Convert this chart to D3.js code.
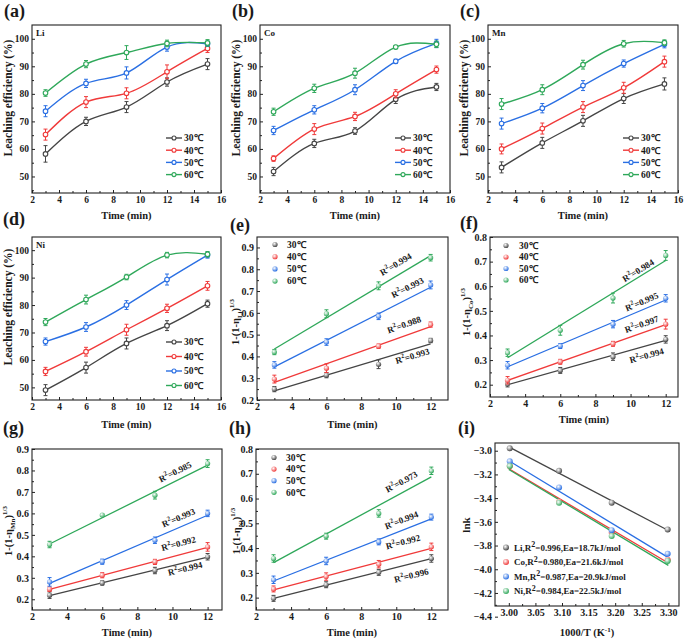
<!DOCTYPE html>
<html><head><meta charset="utf-8">
<script src="https://cdn.jsdelivr.net/npm/d3@7"></script>
<style>
body{margin:0;background:#fff}
svg{display:block}
text{font-family:"Liberation Serif","Times New Roman",serif;font-weight:bold;fill:#1a1a1a}
</style>
</head><body><svg id="c" width="685" height="643"></svg>
<script>
// ---------------- DATA ----------------
const temps = ["30℃","40℃","50℃","60℃"];
const colors = ["#454545","#f03a3a","#2a6fe3","#2fa85a"];

// Leaching efficiency vs time (a-d)
const timeA = [3,6,9,12,15];
const liEff = [[58.2,70,75.2,84.3,90.8],[65.2,77,80.2,88,96.5],[73.7,83.8,87.6,97,98.2],[80.3,90.8,95,98.3,98.5]];
const liErr = [[3,1.5,2,1.5,2],[2,2,2,2.5,1.5],[2,1.5,2.2,1.5,1],[1.2,1.3,2.5,1.2,1.2]];
const coEff = [[51.8,62,66.5,78,82.5],[56.5,67.2,71.8,80,88.8],[66.7,74.2,81.5,91.8,98.3],[73.5,82,87.5,97,98]];
const coErr = [[1.5,1.5,1.2,1.5,1.3],[1,2,1.5,1.5,1.3],[1.5,1.5,1.8,0.8,1.5],[1.3,1.5,1.8,0.6,1.2]];
const mnEff = [[53.3,62.2,70.2,78.3,83.6],[60,67.4,75.2,82.2,91.7],[69.2,74.8,83,91,98],[76.3,81.5,90.6,98.2,98.6]];
const mnErr = [[2,2,2,1.8,2.2],[1.8,2,2,2,2],[2,1.7,1.8,1.3,1.3],[2,1.8,1.6,1.2,1]];
const niEff = [[49,57.2,66,72.5,80.5],[55.8,63,71,78.8,87],[66.7,72,80,89.3,98.2],[73.8,82,90.2,98.2,98.5]];
const niErr = [[2,2,2,1.8,1.3],[1.5,1.6,2,1.5,1.6],[1.3,1.6,1.6,2,1.1],[1.3,1.6,1,1,1]];

// Shrinking-core kinetics 1-(1-eta)^(1/3) vs time (e-h)
const timeK = [3,6,9,12];
const liK = [[0.25,0.314,0.364,0.473],[0.296,0.346,0.447,0.546],[0.361,0.466,0.584,0.728],[0.42,0.596,0.724,0.853]];
const liKErr = [[0.012,0.012,0.02,0.01],[0.018,0.02,0.01,0.012],[0.015,0.015,0.015,0.018],[0.012,0.018,0.018,0.015]];
const liR2 = ["0.993","0.988","0.993","0.994"];
const coK = [[0.203,0.258,0.314,0.384],[0.218,0.293,0.366,0.446],[0.279,0.357,0.446,0.551],[0.33,0.421,0.552,0.725]];
const coKErr = [[0.012,0.012,0.015,0.015],[0.015,0.01,0.01,0.02],[0.015,0.01,0.015,0.015],[0.015,0.02,0.02,0.02]];
const coR2 = ["0.994","0.997","0.995","0.984"];
const mnK = [[0.219,0.276,0.334,0.398],[0.247,0.312,0.374,0.444],[0.281,0.375,0.475,0.6],[0.455,0.592,0.685,0.832]];
const mnKErr = [[0.015,0.01,0.015,0.015],[0.01,0.012,0.012,0.02],[0.02,0.012,0.015,0.015],[0.015,0.005,0.018,0.018]];
const mnR2 = ["0.994","0.992","0.993","0.985"];
const niK = [[0.197,0.252,0.302,0.358],[0.235,0.285,0.335,0.405],[0.272,0.348,0.425,0.525],[0.358,0.448,0.54,0.712]];
const niKErr = [[0.012,0.012,0.012,0.015],[0.012,0.015,0.015,0.015],[0.015,0.015,0.012,0.012],[0.015,0.012,0.015,0.015]];
const niR2 = ["0.996","0.992","0.994","0.973"];

// Arrhenius (i)
const invT = [3.0017,3.0945,3.1934,3.2987];
const metals = ["Li","Co","Mn","Ni"];
const lnk = [[-2.98,-3.17,-3.44,-3.665],[-3.13,-3.43,-3.69,-3.92],[-3.09,-3.31,-3.67,-3.87],[-3.13,-3.44,-3.72,-3.93]];
const arrR2 = ["0.996","0.980","0.987","0.984"];
const arrEa = ["18.7","21.6","20.9","22.5"];
const arrColors = ["#454545","#f03a3a","#2a6fe3","#2fa85a"];

// tick values
const ticksA_x = [2,4,6,8,10,12,14,16];
const ticksA_y = [50,60,70,80,90,100];
const ticksK_x = [2,4,6,8,10,12];
const ticksE_y = [0.2,0.3,0.4,0.5,0.6,0.7,0.8,0.9];
const ticksF_y = [0.2,0.3,0.4,0.5,0.6,0.7,0.8];
const ticksI_x = [3.00,3.05,3.10,3.15,3.20,3.25,3.30];
const ticksI_y = [-3.0,-3.2,-3.4,-3.6,-3.8,-4.0,-4.2,-4.4];

// ---------------- DRAW ----------------
const svg = d3.select("#c");
const defs = svg.append("defs");
colors.forEach((c,i)=>{
  const gr = defs.append("radialGradient").attr("id","sph"+i).attr("cx","38%").attr("cy","35%").attr("r","65%");
  gr.append("stop").attr("offset","0%").attr("stop-color","#ffffff");
  gr.append("stop").attr("offset","100%").attr("stop-color",c);
});

function fit(xs, ys){
  const mx=d3.mean(xs), my=d3.mean(ys); let sxy=0,sxx=0;
  xs.forEach((x,i)=>{sxy+=(x-mx)*(ys[i]-my); sxx+=(x-mx)**2;});
  const b=sxy/sxx; return {a:my-b*mx,b};
}

function axes(g, x, y, box, o){
  const fs = o.tickFs||10;
  const xa = g.append("g").attr("transform",`translate(0,${box.b})`)
    .call(d3.axisBottom(x).tickValues(o.xt).tickSizeInner(-3).tickSizeOuter(0).tickPadding(3).tickFormat(o.xf||d3.format("d")));
  xa.select(".domain").remove();
  xa.selectAll("text").attr("font-size",fs).style("font-family",'"Liberation Serif",serif').style("font-weight","bold").attr("fill","#1a1a1a");
  xa.selectAll("line").attr("stroke","#222");
  if(o.xm){ const m = g.append("g").attr("transform",`translate(0,${box.b})`).call(d3.axisBottom(x).tickValues(o.xm).tickSize(-2).tickFormat(""));
    m.select(".domain").remove(); m.selectAll("line").attr("stroke","#222"); }
  const ya = g.append("g").attr("transform",`translate(${box.l},0)`)
    .call(d3.axisLeft(y).tickValues(o.yt).tickSizeInner(-3).tickSizeOuter(0).tickPadding(3).tickFormat(o.yf||d3.format("d")));
  ya.select(".domain").remove();
  ya.selectAll("text").attr("font-size",fs).style("font-family",'"Liberation Serif",serif').style("font-weight","bold").attr("fill","#1a1a1a");
  ya.selectAll("line").attr("stroke","#222");
  if(o.ym){ const m = g.append("g").attr("transform",`translate(${box.l},0)`).call(d3.axisLeft(y).tickValues(o.ym).tickSize(-2).tickFormat(""));
    m.select(".domain").remove(); m.selectAll("line").attr("stroke","#222"); }
  g.append("rect").attr("x",box.l).attr("y",box.t).attr("width",box.r-box.l).attr("height",box.b-box.t)
    .attr("fill","none").attr("stroke","#222").attr("stroke-width",1.1);
}

function panelLabel(txt, x, y){
  svg.append("text").attr("x",x).attr("y",y).attr("font-size",18).text(txt);
}
function xTitle(txt, cx, y, fs){
  return svg.append("text").attr("x",cx).attr("y",y).attr("text-anchor","middle").attr("font-size",fs||10.5).text(txt);
}
function yTitle(cx, cy, fs){
  return svg.append("text").attr("transform",`translate(${cx},${cy}) rotate(-90)`).attr("text-anchor","middle")
    .attr("dy","0.35em").attr("font-size",fs||11);
}
function etaTitle(cx, cy, sub){
  const t = yTitle(cx, cy, 10.5);
  t.append("tspan").text("1-(1-η");
  t.append("tspan").attr("font-size",7).attr("dy",3).text(sub);
  t.append("tspan").attr("dy",-3).text(")");
  t.append("tspan").attr("font-size",7).attr("dy",-5).text("1/3");
}

function errBars(g, x, y, xs, ys, es, col, cap){
  xs.forEach((xv,i)=>{
    const X=x(xv), y1=y(ys[i]-es[i]), y2=y(ys[i]+es[i]);
    g.append("line").attr("x1",X).attr("x2",X).attr("y1",y1).attr("y2",y2).attr("stroke",col).attr("stroke-width",1);
    [y1,y2].forEach(yy=>g.append("line").attr("x1",X-cap).attr("x2",X+cap).attr("y1",yy).attr("y2",yy).attr("stroke",col).attr("stroke-width",1));
  });
}

// ---- leaching panels ----
function leachPanel(box, data, err, el, leg){
  const g = svg.append("g");
  const x = d3.scaleLinear().domain([2,16]).range([box.l,box.r]);
  const y = d3.scaleLinear().domain(box.yd).range([box.b,box.t]);
  axes(g,x,y,box,{xt:ticksA_x, yt:ticksA_y, xm:d3.range(3,16,2), ym:[45,55,65,75,85,95,105].filter(v=>v>box.yd[0]&&v<box.yd[1]), tickFs:9.5});
  const line = d3.line().x((d,i)=>x(timeA[i])).y(d=>y(d)).curve(d3.curveNatural);
  data.forEach((s,k)=>{
    g.append("path").attr("d",line(s)).attr("fill","none").attr("stroke",colors[k]).attr("stroke-width",1.4);
    errBars(g,x,y,timeA,s,err[k],colors[k],2);
    s.forEach((v,i)=>g.append("circle").attr("cx",x(timeA[i])).attr("cy",y(v)).attr("r",2.3)
      .attr("fill","#fff").attr("stroke",colors[k]).attr("stroke-width",1.1));
  });
  g.append("text").attr("x",box.l+4).attr("y",box.t+11).attr("font-size",9).text(el);
  temps.forEach((t,k)=>{
    const yy = leg.y0 + k*leg.dy;
    g.append("line").attr("x1",box.r-55).attr("x2",box.r-39).attr("y1",yy).attr("y2",yy).attr("stroke",colors[k]).attr("stroke-width",1.4);
    g.append("circle").attr("cx",box.r-47).attr("cy",yy).attr("r",2).attr("fill","#fff").attr("stroke",colors[k]).attr("stroke-width",1.1);
    g.append("text").attr("x",box.r-37).attr("y",yy).attr("dy","0.35em").attr("font-size",9.5).text(t);
  });
}

// ---- kinetic panels ----
function kinPanel(box, data, err, r2, rpos, yt, legPos){
  const g = svg.append("g");
  const x = d3.scaleLinear().domain(box.xd).range([box.l,box.r]);
  const y = d3.scaleLinear().domain(box.yd).range([box.b,box.t]);
  axes(g,x,y,box,{xt:ticksK_x, yt:yt, xm:[3,5,7,9,11], ym:yt.map(v=>v+0.05).filter(v=>v<box.yd[1]), xf:d3.format("d"), yf:d3.format(".1f"), tickFs:10});
  data.forEach((s,k)=>{
    const f = fit(timeK,s);
    const x0=timeK[0], x1=timeK[timeK.length-1];
    g.append("line").attr("x1",x(x0)).attr("y1",y(f.a+f.b*x0)).attr("x2",x(x1)).attr("y2",y(f.a+f.b*x1))
      .attr("stroke",colors[k]).attr("stroke-width",1.3);
    errBars(g,x,y,timeK,s,err[k],colors[k],2);
    s.forEach((v,i)=>g.append("circle").attr("cx",x(timeK[i])).attr("cy",y(v)).attr("r",2.6).attr("fill",`url(#sph${k})`));
    const ang = Math.atan2(y(f.a+f.b*(x0+1))-y(f.a+f.b*x0), x(x0+1)-x(x0))*180/Math.PI;
    const p = rpos[k];
    const t = g.append("text").attr("transform",`translate(${x(p[0])},${y(p[1])}) rotate(${ang})`)
      .attr("text-anchor","middle").attr("dy","0.35em").attr("font-size",9);
    t.append("tspan").text("R");
    t.append("tspan").attr("font-size",6.5).attr("dy",-4).text("2");
    t.append("tspan").attr("dy",4).text("="+r2[k]);
  });
  if(legPos){
    temps.forEach((tt,k)=>{
      const yy = legPos.y0 + k*legPos.dy;
      g.append("circle").attr("cx",legPos.mx).attr("cy",yy).attr("r",2.6).attr("fill",`url(#sph${k})`);
      g.append("text").attr("x",legPos.tx).attr("y",yy).attr("dy","0.35em").attr("font-size",9.5).text(tt);
    });
  }
}

// ---- layout ----
const rowA = {t:25,b:193,yd:[44,105]};
leachPanel({l:32,r:221,...rowA}, liEff, liErr, "Li", {y0:138,dy:12.2});
leachPanel({l:260,r:450,...rowA}, coEff, coErr, "Co", {y0:138,dy:12.2});
leachPanel({l:488,r:678,...rowA}, mnEff, mnErr, "Mn", {y0:138,dy:12.2});
leachPanel({l:32,r:221,t:237,b:400,yd:[45.4,104.8]}, niEff, niErr, "Ni", {y0:342,dy:14.5});

kinPanel({l:257,r:448,t:237,b:400,xd:[2,13],yd:[0.2,0.948]}, liK, liKErr, liR2,
  [[10.95,0.402],[10.47,0.546],[10.66,0.716],[9.99,0.823]], ticksE_y, {mx:275,tx:287,y0:244.5,dy:12.2});
kinPanel({l:490,r:678,t:237,b:397,xd:[2,12.7],yd:[0.15,0.8]}, coK, coKErr, coR2,
  [[10.91,0.319],[10.63,0.446],[10.63,0.537],[10.43,0.664]], ticksF_y, {mx:506,tx:519,y0:245.5,dy:11.5});
kinPanel({l:32,r:222,t:449,b:610,xd:[2,12.82],yd:[0.15,0.9]}, mnK, mnKErr, mnR2,
  [[10.72,0.343],[10.34,0.46],[10.34,0.58],[10.15,0.794]], ticksE_y, null);
kinPanel({l:256,r:448,t:449,b:610,xd:[2,12.95],yd:[0.15,0.8]}, niK, niKErr, niR2,
  [[10.86,0.29],[10.38,0.425],[10.29,0.513],[10.29,0.668]], ticksF_y, {mx:274,tx:286,y0:457.5,dy:11.6});

// ---- Arrhenius panel ----
(function(){
  const box = {l:495,r:679,t:443,b:606};
  const g = svg.append("g");
  const x = d3.scaleLinear().domain([2.974,3.32]).range([box.l,box.r]);
  const y = d3.scaleLinear().domain([-4.31,-2.935]).range([box.b,box.t]);
  axes(g,x,y,box,{xt:ticksI_x, yt:ticksI_y, xm:[3.025,3.075,3.125,3.175,3.225,3.275], ym:[-3.1,-3.3,-3.5,-3.7,-3.9,-4.1,-4.3],
    xf:d3.format(".2f"), yf:d3.format(".1f"), tickFs:10});
  g.selectAll("line").filter(function(){ const t=d3.select(this.parentNode); return false; });
  lnk.forEach((s,k)=>{
    const f = fit(invT,s);
    g.append("line").attr("x1",x(3.0)).attr("y1",y(f.a+f.b*3.0)).attr("x2",x(3.3)).attr("y2",y(f.a+f.b*3.3))
      .attr("stroke",arrColors[k]).attr("stroke-width",1.3);
  });
  lnk.forEach((s,k)=>{
    s.forEach((v,i)=>g.append("circle").attr("cx",x(invT[i])).attr("cy",y(v)).attr("r",3).attr("fill",`url(#sph${k})`));
  });
  metals.forEach((m,k)=>{
    const yy = 547.5 + k*14.5;
    g.append("circle").attr("cx",506).attr("cy",yy).attr("r",3).attr("fill",`url(#sph${k})`);
    const t = g.append("text").attr("x",514).attr("y",yy).attr("dy","0.35em").attr("font-size",9);
    t.append("tspan").text(m+",R");
    t.append("tspan").attr("font-size",8).attr("dy",-3.5).text("2");
    t.append("tspan").attr("dy",3.5).text("="+arrR2[k]+",Ea="+arrEa[k]+"kJ/mol");
  });
  const yt = yTitle(466,525,11); yt.text("lnk");
  const xt = xTitle("",587,636,10.5);
  xt.append("tspan").text("1000/T (K");
  xt.append("tspan").attr("font-size",7).attr("dy",-4).text("-1");
  xt.append("tspan").attr("dy",4).text(")");
})();

// ---- titles ----
panelLabel("(a)",4,17); panelLabel("(b)",232,17); panelLabel("(c)",460,17);
panelLabel("(d)",3,225); panelLabel("(e)",230,231); panelLabel("(f)",460,229);
panelLabel("(g)",3,434); panelLabel("(h)",229,434); panelLabel("(i)",458,434);

[[126.5,219],[355,219],[583,219],[126.5,428],[352.5,428],[584,423],[127,636],[352,636]].forEach(p=>xTitle("Time (min)",p[0],p[1],10.5));
[[8,98],[236,98],[464,98],[8,307]].forEach(p=>yTitle(p[0],p[1],11.5).text("Leaching efficiency (%)"));
etaTitle(235,322,"Li"); etaTitle(466,312,"Co"); etaTitle(8,531,"Mn"); etaTitle(236,531,"Ni");
</script></body></html>
